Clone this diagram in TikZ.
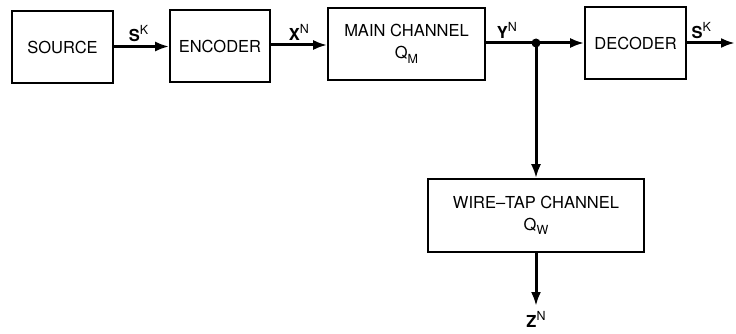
\documentclass[tikz,border=0pt]{standalone}
\usepackage{fontspec}
\setmainfont{TeX Gyre Heros}
\usetikzlibrary{arrows.meta}

\newcommand\sigsup[2]{\textbf{#1}\raisebox{0.42em}{\fontsize{12.5}{13}\selectfont #2}}
\newcommand\chsub[2]{#1\raisebox{-0.28em}{\fontsize{12.5}{13}\selectfont #2}}

\tikzset{
  blockbox/.style={draw=black,line width=1.6pt,minimum height=72pt,inner sep=0pt,align=center,
    font=\fontsize{16.5}{22}\selectfont},
  sigline/.style={line width=3pt,-{Latex[length=14pt,width=10pt]}},
  siglabel/.style={inner sep=3pt,font=\fontsize{16.5}{18}\selectfont}
}

\begin{document}
\begin{tikzpicture}[x=1pt,y=1pt]
\useasboundingbox (0,0) rectangle (736,-334);
% blocks
\node[blockbox,minimum width=101pt] (source) at (62.5,-47) {SOURCE};
\node[blockbox,minimum width=100pt] (encoder) at (220,-46) {ENCODER};
\node[blockbox,minimum width=157pt] (mainch) at (406.5,-44) {MAIN CHANNEL\\\chsub{Q}{M}};
\node[blockbox,minimum width=101pt] (decoder) at (635.5,-43) {DECODER};
\node[blockbox,minimum width=216pt,minimum height=73pt] (wiretap) at (536,-215.5) {WIRE--TAP CHANNEL\\\chsub{Q}{W}};
\coordinate (tap) at (536,-43);
\coordinate (sink) at (735,-43);
\coordinate (eave) at (536,-306);
% connectors
\draw[sigline] (source.east |- 0,-46.5) -- (encoder.west |- 0,-46.5)
  node[siglabel,midway,above,xshift=-3pt] {\sigsup{S}{K}};
\draw[sigline] (encoder.east |- 0,-45) -- (mainch.west |- 0,-45)
  node[siglabel,midway,above] {\sigsup{X}{N}};
\draw[line width=3pt] (mainch.east |- tap) -- (tap)
  node[siglabel,midway,above,xshift=-4pt] {\sigsup{Y}{N}};
\draw[sigline] (tap) -- (decoder.west |- tap);
\draw[sigline] (decoder.east |- sink) -- (sink)
  node[siglabel,pos=0.3,above] {\sigsup{S}{K}};
\fill (tap) circle (4.5pt);
\draw[sigline] (tap) -- (wiretap.north);
\draw[sigline] (wiretap.south) -- (eave)
  node[siglabel,below,yshift=-1pt] {\sigsup{Z}{N}};
\end{tikzpicture}
\end{document}
